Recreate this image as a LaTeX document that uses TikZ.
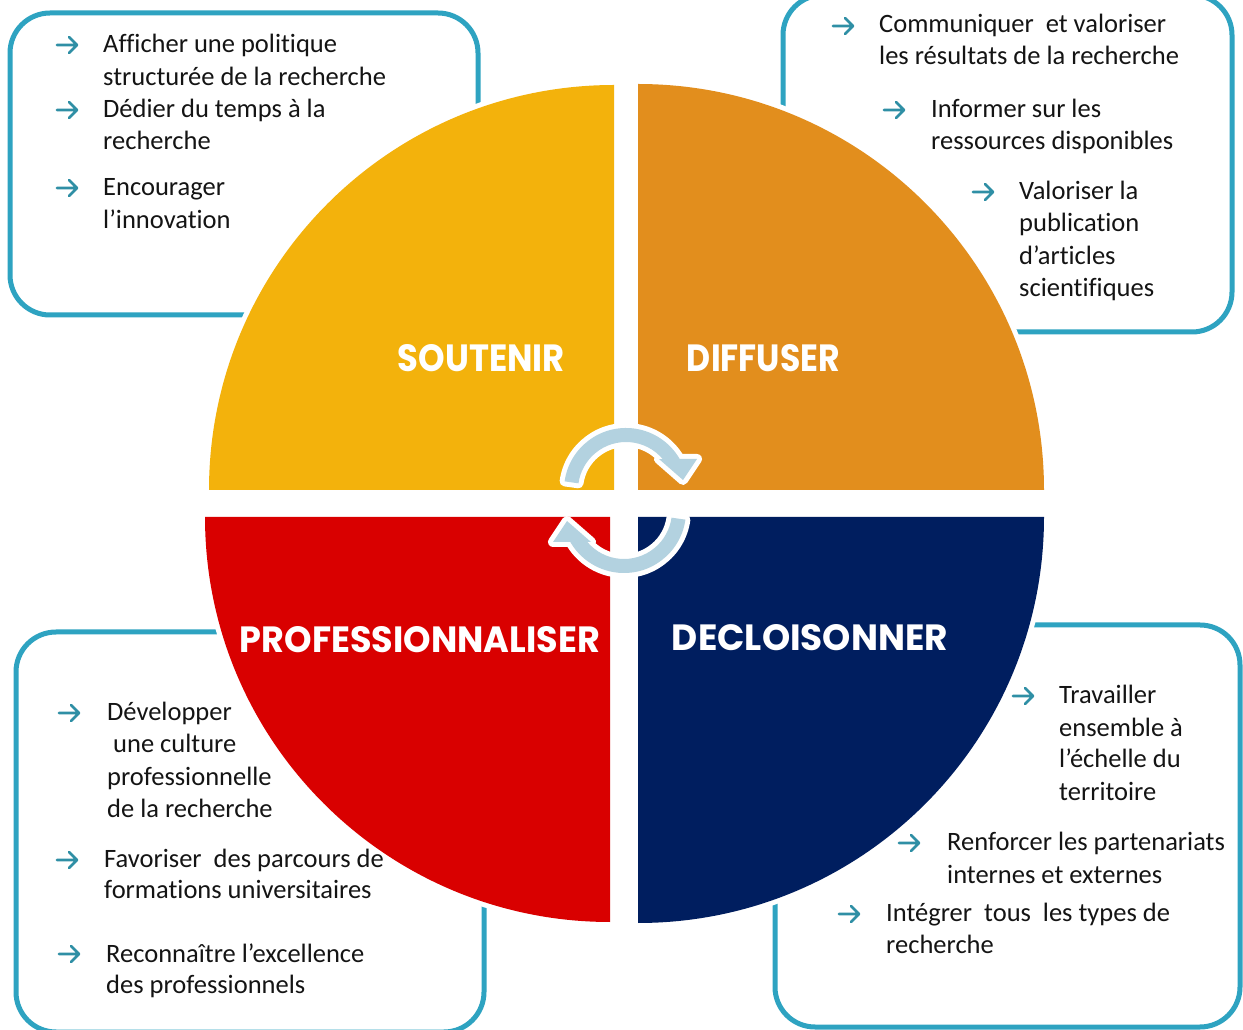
\documentclass[tikz,border=0pt]{standalone}
\usepackage{fontspec}
\setmainfont{Carlito}[Ligatures=CommonOff]
\newfontfamily\titlefont{Poppins}
\definecolor{cyel}{HTML}{F3B20C}
\definecolor{cora}{HTML}{E28E1D}
\definecolor{cred}{HTML}{D90000}
\definecolor{cnav}{HTML}{001E5F}
\definecolor{cbox}{HTML}{2EA3C1}
\definecolor{carr}{HTML}{2F8FA5}
\definecolor{ccirc}{HTML}{B3D2E0}
\definecolor{ctxt}{HTML}{141414}
\tikzset{
  txt/.style={anchor=base west, inner sep=0pt, font=\fontsize{26.5}{32}\selectfont, text=ctxt},
  ttl/.style={inner sep=0pt, text=white},
  boxline/.style={draw=cbox, line width=5pt, rounded corners=40pt},
  halo/.style={fill=white, draw=white, line width=10pt},
  barrow/.pic={\draw[carr, line width=2.6pt, line cap=round, line join=round]
     (-10,0) -- (10,0) (2,8) -- (10,0) -- (2,-8);},
  cychalo/.style={fill=white, draw=white, line width=10pt, line join=round},
  cycfill/.style={fill=ccirc},
  cycshape/.pic={
    \path[cychalo] (172:62) arc[start angle=172,end angle=30,radius=62] -- (71,31) -- (57,10) -- (33,31) -- (40:48) arc[start angle=40,end angle=172,radius=48] -- cycle;
    \path[cycfill] (172:62) arc[start angle=172,end angle=30,radius=62] -- (71,31) -- (57,10) -- (33,31) -- (40:48) arc[start angle=40,end angle=172,radius=48] -- cycle;
  }
}
\newcommand{\ttltext}[3]{\resizebox{#1pt}{#2pt}{\titlefont\bfseries #3}}
\begin{document}
\begin{tikzpicture}[x=1pt,y=1pt]
\useasboundingbox (0,0) rectangle (1243,1029);
\fill[white] (0,0) rectangle (1243,1029);

% boxes
\draw[boxline] (10,1016) rectangle (478,714);
\draw[boxline] (783,1034) rectangle (1232,697);
\draw[boxline] (16,397) rectangle (484,-3);
\draw[boxline] (775,404) rectangle (1240,2);

% quadrant halos
\path[halo] (614,539) -- (209,539) arc[start angle=180,end angle=90,radius=405] -- cycle;
\path[halo] (638,539) -- (638,945) arc[start angle=90,end angle=0,radius=406] -- cycle;
\path[halo] (610,512) -- (205,512) arc[start angle=180,end angle=270,radius=405] -- cycle;
\path[halo] (638,512) -- (1044,512) arc[start angle=0,end angle=-90,radius=406] -- cycle;
% quadrants
\fill[cyel] (614,539) -- (209,539) arc[start angle=180,end angle=90,radius=405] -- cycle;
\fill[cora] (638,539) -- (638,945) arc[start angle=90,end angle=0,radius=406] -- cycle;
\fill[cred] (610,512) -- (205,512) arc[start angle=180,end angle=270,radius=405] -- cycle;
\fill[cnav] (638,512) -- (1044,512) arc[start angle=0,end angle=-90,radius=406] -- cycle;

% cycle arrows
\pic at (626,539) {cycshape};
\pic[rotate=180] at (624,518) {cycshape};

% titles
\node[ttl] (tsout) at (481.5,670.5) {\ttltext{167}{27}{SOUTENIR}};
\node[ttl] (tdiff) at (763.5,670.5) {\ttltext{153}{27}{DIFFUSER}};
\node[ttl] (tprof) at (420,389) {\ttltext{360}{26}{PROFESSIONNALISER}};
\node[ttl] (tdecl) at (810,391) {\ttltext{276}{26}{DECLOISONNER}};

% top-left box
\pic at (67,984) {barrow};
\pic at (67,919) {barrow};
\pic at (67,841) {barrow};
\node[txt] (a1) at (103,976) {Afficher une politique};
\node[txt] (a2) at (103,943) {structurée de la recherche};
\node[txt] (a3) at (103,911) {Dédier du temps à la};
\node[txt] (a4) at (103,879) {recherche};
\node[txt] (a5) at (103,833) {Encourager};
\node[txt] (a6) at (103,800) {l’innovation};

% top-right box
\pic at (843,1003) {barrow};
\pic at (894,919) {barrow};
\pic at (983,837) {barrow};
\node[txt] (b1) at (879,996) {Communiquer\ \ et valoriser};
\node[txt] (b2) at (879,964) {les résultats de la recherche};
\node[txt] (b3) at (931,911) {Informer sur les};
\node[txt] (b4) at (931,879) {ressources disponibles};
\node[txt] (b5) at (1019,829) {Valoriser la};
\node[txt] (b6) at (1019,797) {publication};
\node[txt] (b7) at (1019,764) {d’articles};
\node[txt] (b8) at (1019,732) {scientifiques};

% bottom-left box
\pic at (69,316) {barrow};
\pic at (67,169) {barrow};
\pic at (69,75) {barrow};
\node[txt] (c1) at (107,308) {Développer};
\node[txt] (c2) at (113,276) {une culture};
\node[txt] (c3) at (107,243) {professionnelle};
\node[txt] (c4) at (107,211) {de la recherche};
\node[txt] (c5) at (104,161) {Favoriser\ \ des parcours de};
\node[txt] (c6) at (104,130) {formations universitaires};
\node[txt] (c7) at (106,67) {Reconnaître l’excellence};
\node[txt] (c8) at (106,36) {des professionnels};

% bottom-right box
\pic at (1023,333) {barrow};
\pic at (909,186) {barrow};
\pic at (849,115) {barrow};
\node[txt] (d1) at (1059,325) {Travailler};
\node[txt] (d2) at (1059,292) {ensemble à};
\node[txt] (d3) at (1059,261) {l’échelle du};
\node[txt] (d4) at (1059,228) {territoire};
\node[txt] (d5) at (947,178) {Renforcer les partenariats};
\node[txt] (d6) at (947,146) {internes et externes};
\node[txt] (d7) at (886,107) {Intégrer\ \ tous\ \ les types de};
\node[txt] (d8) at (886,76) {recherche};
\end{tikzpicture}
\end{document}
